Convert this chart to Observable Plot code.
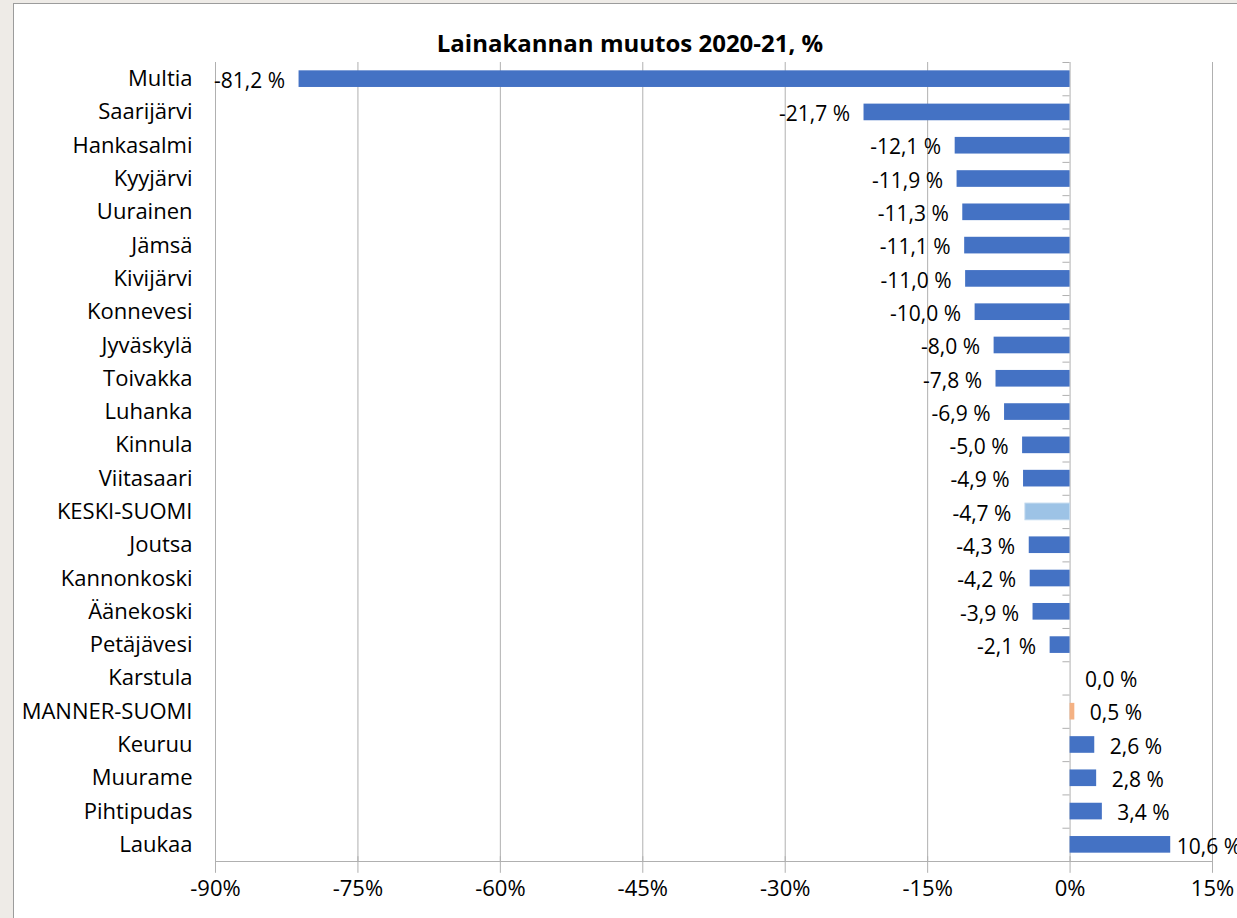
<!DOCTYPE html>
<html>
<head>
<meta charset="utf-8">
<script src="https://cdn.jsdelivr.net/npm/d3@7"></script>
<script src="https://cdn.jsdelivr.net/npm/@observablehq/plot@0.6"></script>
<style>
  html, body { margin: 0; padding: 0; }
  body { width: 1237px; height: 918px; background: #eeebe7; position: relative; overflow: hidden; font-family: "Open Sans", sans-serif; }
  #panel { position: absolute; left: 13px; top: 3px; width: 1300px; height: 1000px; background: #fff; border: 1px solid #9c9c9c; }
  #title { position: absolute; left: 0; width: 1260px; top: 27px; text-align: center; font-weight: bold; font-size: 24px; line-height: 32px; color: #000; }
  #chart { position: absolute; left: 0; top: 0; }
</style>
</head>
<body>
<div id="panel"></div>
<div id="title">Lainakannan muutos 2020-21, %</div>
<div id="chart"></div>
<script>
const categories = ["Multia","Saarijärvi","Hankasalmi","Kyyjärvi","Uurainen","Jämsä","Kivijärvi","Konnevesi","Jyväskylä","Toivakka","Luhanka","Kinnula","Viitasaari","KESKI-SUOMI","Joutsa","Kannonkoski","Äänekoski","Petäjävesi","Karstula","MANNER-SUOMI","Keuruu","Muurame","Pihtipudas","Laukaa"];
const values = [-81.2,-21.7,-12.1,-11.9,-11.3,-11.1,-11.0,-10.0,-8.0,-7.8,-6.9,-5.0,-4.9,-4.7,-4.3,-4.2,-3.9,-2.1,0.0,0.5,2.6,2.8,3.4,10.6];
const xTicks = [-90,-75,-60,-45,-30,-15,0,15];

const data = categories.map((c, i) => ({name: c, value: values[i]}));
const colorOf = d => d.name === "KESKI-SUOMI" ? "#9dc3e6" : d.name === "MANNER-SUOMI" ? "#f4b183" : "#4472c4";
const fmt = v => v.toFixed(1).replace(".", ",").replace("-0,0", "0,0") + " %";

const W = 1237, H = 918, mt = 62, mb = 57, ml = 215, mr = 25;
const step = (H - mt - mb) / categories.length;

const last = categories[categories.length - 1];
const chart = Plot.plot({
  width: W, height: H,
  marginTop: mt, marginBottom: mb, marginLeft: ml, marginRight: mr,
  style: {fontFamily: "'Open Sans', sans-serif", fontSize: "21px", color: "#000", background: "transparent", overflow: "visible"},
  x: {domain: [-90, 15], ticks: xTicks, tickFormat: d => d + "%", label: null, tickSize: 0},
  y: {domain: categories, paddingInner: 0.5, paddingOuter: 0.25, round: false, label: null, tickSize: 0},
  marks: [
    Plot.ruleX(xTicks, {x: d => d, stroke: "#b0b0b0", strokeWidth: 1}),
    Plot.ruleY([0], {y: () => last, x1: -90, x2: 15, dy: step/2, stroke: "#b0b0b0"}),
    Plot.tickX(xTicks, {x: d => d, y: () => last, dy: step/2 + 3.5, stroke: "#b0b0b0"}),
    Plot.ruleY(categories, {y: d => d, x1: -0.75, x2: 0, dy: -step/2, stroke: "#b0b0b0"}),
    Plot.barX(data, {y: "name", x1: 0, x2: "value", fill: colorOf}),
    Plot.barX(data.filter(d => d.name === "KESKI-SUOMI"), {y: "name", x1: 0, x2: "value", fill: "none", stroke: "#bdd7ee", strokeWidth: 1}),
    Plot.text(data.filter(d => d.value < 0), {y: "name", x: "value", text: d => fmt(d.value), textAnchor: "end", dx: -14, dy: 2, fontSize: 21}),
    Plot.text(data.filter(d => d.value >= 0 && d.name !== last), {y: "name", x: "value", text: d => fmt(d.value), textAnchor: "start", dx: 15, dy: 2, fontSize: 21}),
    Plot.text(data.filter(d => d.name === last), {y: "name", x: "value", text: d => fmt(d.value), textAnchor: "start", dx: 6, dy: 2, fontSize: 21}),
    Plot.axisY({tickSize: 0, tickPadding: 23, fontSize: 22}),
    Plot.axisX({ticks: xTicks, tickFormat: d => d + "%", tickSize: 0, tickPadding: 19, fontSize: 22})
  ]
});
document.getElementById("chart").appendChild(chart);
</script>
</body>
</html>
